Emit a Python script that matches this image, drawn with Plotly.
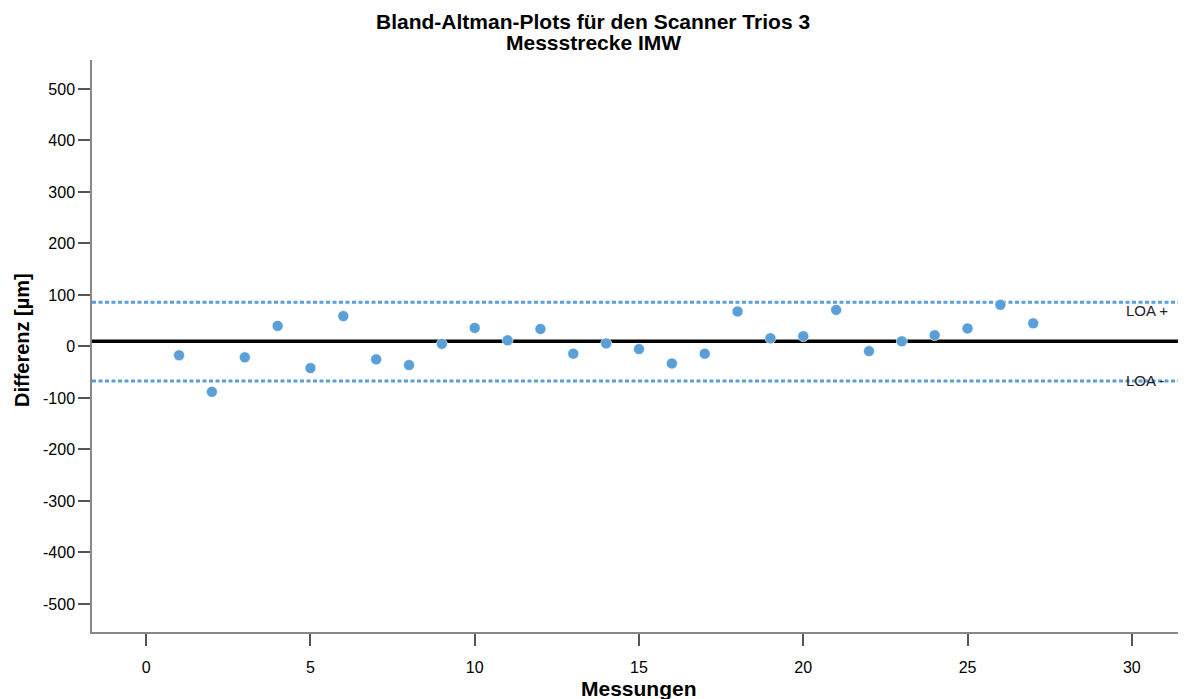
import plotly.graph_objects as go

messungen = list(range(1, 28))
differenz = [-17, -88, -21, 40, -42, 59, -25, -36, 5, 36, 12, 34, -14, 6, -5, -33, -14, 68, 16, 20, 71, -9, 10, 22, 35, 81, 45]
mittelwert = 10
loa_plus = 86
loa_minus = -67
x_ticks = [0, 5, 10, 15, 20, 25, 30]
y_ticks = [-500, -400, -300, -200, -100, 0, 100, 200, 300, 400, 500]
y_ticktext = [str(v) for v in y_ticks]
title_lines = ["Bland-Altman-Plots für den Scanner Trios 3", "Messstrecke IMW"]

x_range = [-1.65, 31.65]
y_range = [-554.4, 556.3]

FONT = "Liberation Sans, Arial, sans-serif"
BLUE = "#5a9fd8"

# page body has an 8px margin; the figure is sized so its right/bottom edges meet the window
OFF = 8
W, H = 1186 - OFF, 699 - OFF
L, R, T, B = 92 - OFF, 0, 60 - OFF, 67

fig = go.Figure()
fig.add_trace(go.Scatter(x=x_range, y=[loa_plus, loa_plus], mode="lines",
                         line=dict(color=BLUE, width=3, dash="4px,2.5px"), hoverinfo="skip"))
fig.add_trace(go.Scatter(x=x_range, y=[loa_minus, loa_minus], mode="lines",
                         line=dict(color=BLUE, width=3, dash="4px,2.5px"), hoverinfo="skip"))
fig.add_trace(go.Scatter(x=x_range, y=[mittelwert, mittelwert], mode="lines",
                         line=dict(color="black", width=3.5), hoverinfo="skip"))
fig.add_trace(go.Scatter(x=messungen, y=differenz, mode="markers",
                         marker=dict(color=BLUE, size=11, line=dict(color="white", width=0.6))))

annotations = [
    dict(text="LOA +", x=29.77, y=69.5, xref="x", yref="y", xanchor="left", yanchor="middle",
         showarrow=False, font=dict(family=FONT, size=15, color="#222")),
    dict(text="LOA -", x=29.77, y=-66.4, xref="x", yref="y", xanchor="left", yanchor="middle",
         showarrow=False, font=dict(family=FONT, size=15, color="#222")),
]
# page-pixel positions of the title texts
px_texts = [
    ("<b>%s</b>" % title_lines[0], 593, 21, 21, 0),
    ("<b>%s</b>" % title_lines[1], 593, 42, 21, 0),
    ("<b>Messungen</b>", 639, 688, 21, 0),
    ("<b>Differenz [µm]</b>", 22, 340, 20, -90),
]
pw, ph = W - L - R, H - T - B
for text, px, py, size, ang in px_texts:
    annotations.append(dict(
        text=text, x=(px - OFF - L) / pw, y=1 - (py - OFF - T) / ph,
        xref="paper", yref="paper", xanchor="center", yanchor="middle",
        textangle=ang, showarrow=False, font=dict(family=FONT, size=size, color="black")))

fig.update_layout(
    width=W, height=H,
    margin=dict(l=L, r=R, t=T, b=B),
    plot_bgcolor="white", paper_bgcolor="white",
    showlegend=False,
    annotations=annotations,
    font=dict(family=FONT, size=16, color="black"),
)
fig.update_xaxes(range=x_range, tickvals=x_ticks, ticks="outside", ticklen=12, tickwidth=1.5,
                 tickcolor="#555", showline=True, linecolor="#888", linewidth=1.5,
                 showgrid=False, zeroline=False, ticklabelstandoff=8,
                 tickfont=dict(family=FONT, size=16, color="black"))
fig.update_yaxes(range=y_range, tickvals=y_ticks, ticktext=y_ticktext, ticks="outside",
                 ticklen=12, tickwidth=1.5,
                 tickcolor="#555", showline=True, linecolor="#888", linewidth=1.5,
                 showgrid=False, zeroline=False,
                 tickfont=dict(family=FONT, size=16, color="black"))

fig.write_html("out.html")
